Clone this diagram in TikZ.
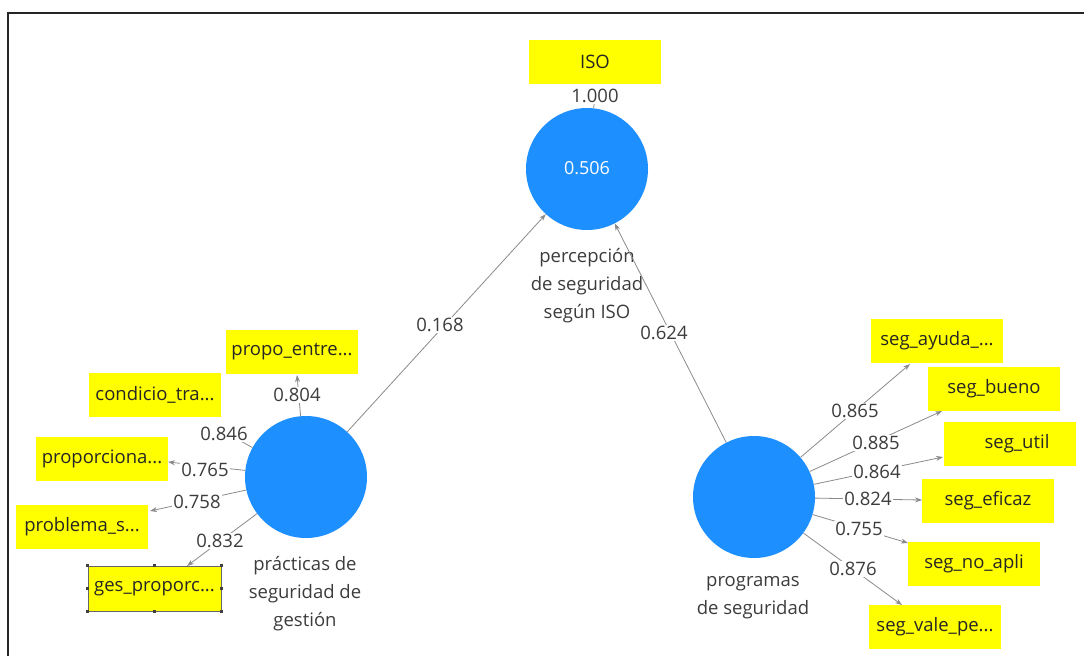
\documentclass[tikz,border=0pt]{standalone}
\usepackage{fontspec}
\setmainfont{Open Sans}
\usetikzlibrary{arrows.meta}
\definecolor{circblue}{HTML}{1E8FFF}
\definecolor{boxyellow}{HTML}{FFFF00}
\definecolor{txtgray}{HTML}{3C3C3C}
\definecolor{linegray}{HTML}{8A8A8A}
\tikzset{
  lv/.style={circle, fill=circblue, draw=none, minimum size=122pt, inner sep=0pt, text=white, font=\fontsize{18}{20}\selectfont},
  ind/.style={rectangle, fill=boxyellow, draw=none, minimum width=132pt, minimum height=44pt, inner sep=0pt, text=black!85, font=\fontsize{18.5}{20}\selectfont},
  lab/.style={fill=white, inner sep=1pt, text=txtgray, font=\fontsize{18.5}{20}\selectfont},
  lvcaption/.style={align=center, text=txtgray, font=\fontsize{18.5}{28}\selectfont},
  conn/.style={draw=linegray, line width=0.8pt, -{Stealth[length=7pt,width=5pt]}},
  hidden/.style={draw=linegray, line width=0.8pt},
  handle/.style={fill=black!75, minimum size=3pt, inner sep=0pt, rectangle}
}
\begin{document}
\begin{tikzpicture}[x=1pt,y=-1pt]
\useasboundingbox (0,0) rectangle (1084,656);
\draw[line width=2pt, black!85] (7.5,656) -- (7.5,12.5) -- (1084,12.5);

% latent variables
\node[lv] (perc) at (587,169) {\raisebox{3pt}{0.506}};
\node[lv] (prac) at (306,477) {};
\node[lv] (prog) at (754,497) {};

\node[lvcaption] (percl) at (587,286) {percepción\\de seguridad\\según ISO};
\node[lvcaption] (pracl) at (305,594) {prácticas de\\seguridad de\\gestión};
\node[lvcaption] (progl) at (753,598) {programas\\de seguridad};

% indicators
\node[ind] (iso) at (595,62) {ISO};
\node[ind] (i1) at (292,352) {propo\_entre...};
\node[ind] (i2) at (155,395) {condicio\_tra...};
\node[ind] (i3) at (102,459) {proporciona...};
\node[ind] (i4) at (82,527) {problema\_s...};
\node[ind, minimum width=133pt, minimum height=45pt] (i5) at (154.5,588.5) {ges\_proporc...};
\draw[black!60, line width=0.5pt] (i5.north west) rectangle (i5.south east);
\foreach \a in {north west,north,north east,east,south east,south,south west,west}
  \node[handle] at (i5.\a) {};

\node[ind] (j1) at (937,341) {seg\_ayuda\_...};
\node[ind] (j2) at (994,389) {seg\_bueno};
\node[ind] (j3) at (1010,444) {\hspace*{14pt}seg\_util};
\node[ind] (j4) at (988,501) {seg\_eficaz};
\node[ind] (j5) at (974,564) {seg\_no\_apli};
\node[ind] (j6) at (935,627) {seg\_vale\_pe...};

% arrow tips on indicator boxes
\coordinate (ti1) at (297,375);
\coordinate (ti2) at (226,433);
\coordinate (ti3) at (168,462);
\coordinate (ti4) at (150,511);
\coordinate (ti5) at (187,566);
\coordinate (tj1) at (910,364);
\coordinate (tj2) at (942,411);
\coordinate (tj3) at (943,457);
\coordinate (tj4) at (922,500);
\coordinate (tj5) at (908,543);
\coordinate (tj6) at (902,605);
\coordinate (tiso) at (595,96);

% connectors
\draw[hidden] (perc) -- (tiso);
\draw[conn] (prac) -- (perc);
\draw[conn] (prog) -- (perc);
\draw[hidden] (prac) -- (ti2);
\foreach \t in {ti1,ti3,ti4,ti5} \draw[conn] (prac) -- (\t);
\foreach \t in {tj1,tj2,tj3,tj4,tj5,tj6} \draw[conn] (prog) -- (\t);

% labels
\node[lab] (l0) at (595,96) {1.000};
\node[lab] (lp1) at (440,325) {0.168};
\node[lab] (lp2) at (664,333) {0.624};
\node[lab] (la1) at (297,395) {0.804};
\node[lab] (la2) at (224,434) {0.846};
\node[lab] (la3) at (205,470) {0.765};
\node[lab] (la4) at (197,502) {0.758};
\node[lab] (la5) at (220,541) {0.832};
\node[lab] (lb1) at (855,411) {0.865};
\node[lab] (lb2) at (876,443) {0.885};
\node[lab] (lb3) at (877,472) {0.864};
\node[lab] (lb4) at (868,499) {0.824};
\node[lab] (lb5) at (859,529) {0.755};
\node[lab] (lb6) at (853,569) {0.876};
\end{tikzpicture}
\end{document}
